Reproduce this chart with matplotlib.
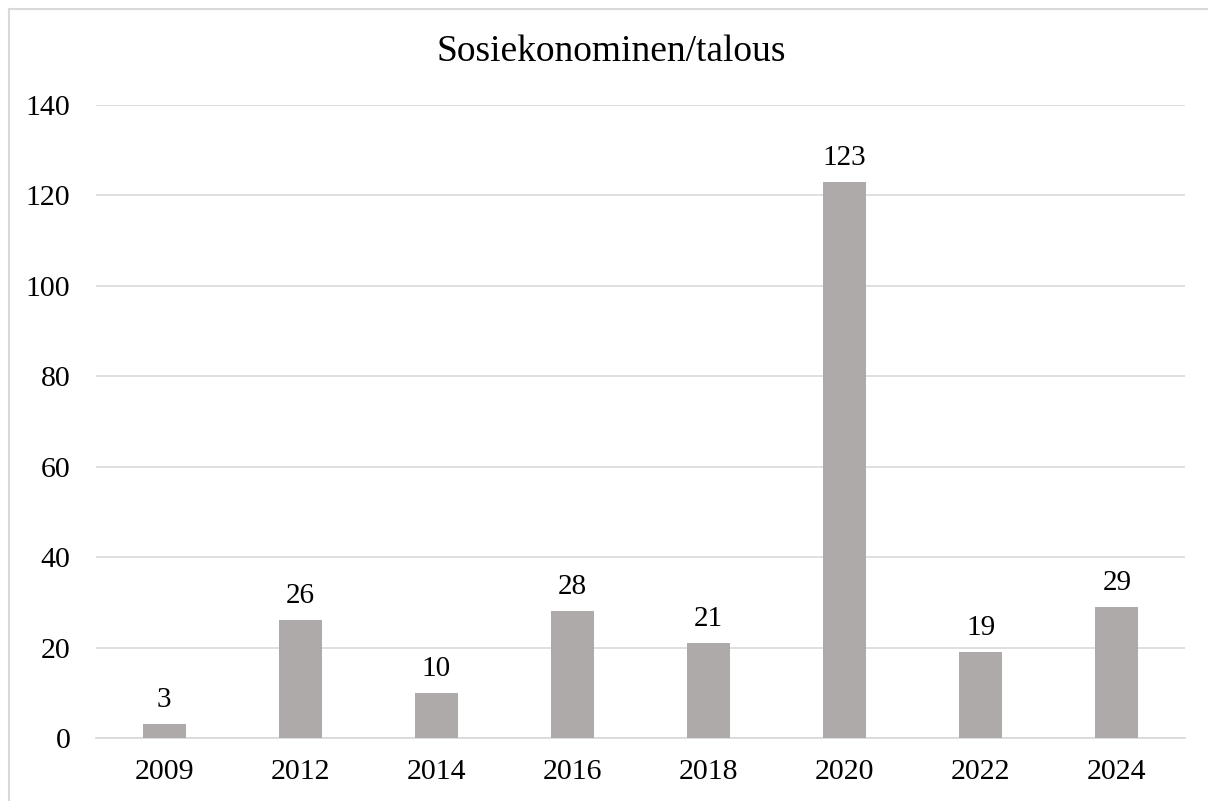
import matplotlib
matplotlib.use('Agg')
import matplotlib.pyplot as plt
from matplotlib.lines import Line2D

years = ['2009', '2012', '2014', '2016', '2018', '2020', '2022', '2024']
counts = [3, 26, 10, 28, 21, 123, 19, 29]
y_ticks = [0, 20, 40, 60, 80, 100, 120, 140]

plt.rcParams['font.family'] = ['Liberation Serif', 'DejaVu Serif']

W, H = 1208, 801
fig = plt.figure(figsize=(W / 100, H / 100), dpi=100)

# chart border: only top and left edges fall inside the image
fig.lines.append(Line2D([8.5 / W, 1.0], [(H - 8.5) / H] * 2, transform=fig.transFigure,
                        color='#D9D9D9', linewidth=1.5))
fig.lines.append(Line2D([8.5 / W] * 2, [0.0, (H - 8.5) / H], transform=fig.transFigure,
                        color='#D9D9D9', linewidth=1.5))

ax = fig.add_axes([96 / W, (H - 738) / H, (1185 - 96) / W, (738 - 105) / H])
x = range(len(years))
bars = ax.bar(x, counts, width=0.316, color='#AEAAAA', zorder=3)
ax.bar_label(bars, labels=[str(c) for c in counts], padding=8, fontsize=21)

ax.set_xlim(-0.5, len(years) - 0.5)
ax.set_ylim(0, 140)
ax.set_yticks(y_ticks)
ax.set_xticks(list(x))
ax.set_xticklabels(years)
ax.tick_params(axis='both', length=0, labelsize=21.5)
ax.tick_params(axis='y', pad=18.5)
ax.tick_params(axis='x', pad=15)
ax.yaxis.grid(True, color='#D9D9D9', linewidth=1.2, zorder=0)
for side in ['top', 'right', 'left']:
    ax.spines[side].set_visible(False)
ax.spines['bottom'].set_color('#D9D9D9')
ax.spines['bottom'].set_linewidth(1.2)

fig.text(611 / W, (H - 52) / H, 'Sosiekonominen/talous', ha='center', va='center', fontsize=27)

fig.savefig('out.png', dpi=100)
